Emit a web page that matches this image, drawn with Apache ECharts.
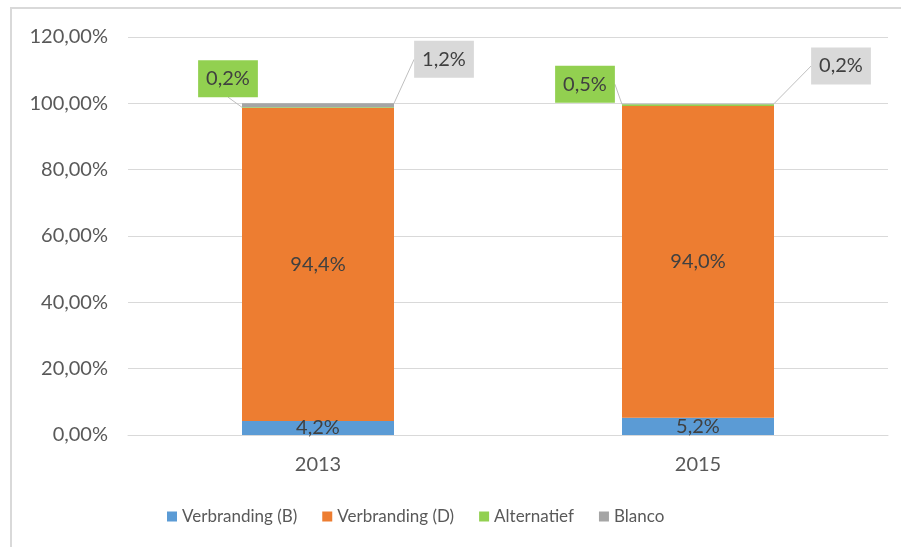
<!DOCTYPE html>
<html>
<head>
<meta charset="utf-8">
<script src="https://cdn.jsdelivr.net/npm/echarts@6/dist/echarts.min.js"></script>
<style>
    body { margin: 0; background: #fff; }
    #frame { position: absolute; left: 10px; top: 7px; width: 900px; height: 545px;
             border-left: 2px solid #d9d9d9; border-top: 2px solid #d9d9d9; }
    #chart { position: absolute; left: 0; top: 0; width: 901px; height: 547px; }
</style>
</head>
<body>
<div id="frame"></div>
<div id="chart"></div>
<script>
var years = ['2013', '2015'];
var seriesNames = ['Verbranding (B)', 'Verbranding (D)', 'Alternatief', 'Blanco'];
var verbrandingB = [4.2, 5.2];
var verbrandingD = [94.4, 94.0];
var alternatief = [0.2, 0.5];
var blanco = [1.2, 0.2];

var fontName = 'Lato';

function pct(v) {
    return v.toFixed(1).replace('.', ',') + '%';
}

// label offsets of the call-out boxes (per year)
var altShift = [[-90, -29], [-113, -21]];
var blancoShift = [[126, -46], [143, -38]];

var chart = echarts.init(document.getElementById('chart'));

var option = {
    animation: false,
    textStyle: { fontFamily: fontName },
    grid: { left: 128, right: 13, top: 37, bottom: 112 },
    legend: {
        bottom: 17,
        left: 162,
        itemWidth: 10,
        itemHeight: 10,
        itemGap: 25,
        icon: 'rect',
        textStyle: { color: '#595959', fontSize: 17, fontFamily: fontName },
        data: seriesNames
    },
    xAxis: {
        type: 'category',
        data: years,
        axisTick: { show: false },
        axisLine: { lineStyle: { color: '#d9d9d9', width: 1 } },
        axisLabel: { color: '#595959', fontSize: 20, margin: 20 }
    },
    yAxis: {
        type: 'value',
        min: 0,
        max: 120,
        interval: 20,
        axisLine: { show: false },
        axisTick: { show: false },
        splitLine: { lineStyle: { color: '#d9d9d9', width: 1 } },
        axisLabel: {
            color: '#595959',
            fontSize: 20,
            margin: 20,
            formatter: function (v) { return v.toFixed(2).replace('.', ',') + '%'; }
        }
    },
    series: [
        {
            name: seriesNames[0],
            type: 'bar',
            stack: 'total',
            barWidth: '40%',
            data: verbrandingB,
            itemStyle: { color: '#5b9bd5' },
            label: {
                show: true, position: 'inside', color: '#404040', fontSize: 20,
                formatter: function (p) { return pct(p.value); }
            }
        },
        {
            name: seriesNames[1],
            type: 'bar',
            stack: 'total',
            data: verbrandingD,
            itemStyle: { color: '#ed7d31' },
            label: {
                show: true, position: 'inside', color: '#404040', fontSize: 20,
                formatter: function (p) { return pct(p.value); }
            }
        },
        {
            name: seriesNames[2],
            type: 'bar',
            stack: 'total',
            data: alternatief,
            itemStyle: { color: '#92d050' },
            label: {
                show: true, position: 'inside', color: '#404040', fontSize: 20,
                backgroundColor: '#92d050', padding: [9, 8, 8, 8],
                formatter: function (p) { return pct(p.value); }
            },
            labelLine: { show: true, lineStyle: { color: '#bfbfbf', width: 1 } },
            labelLayout: function (p) {
                return { dx: altShift[p.dataIndex][0], dy: altShift[p.dataIndex][1] };
            }
        },
        {
            name: seriesNames[3],
            type: 'bar',
            stack: 'total',
            data: blanco,
            itemStyle: { color: '#a5a5a5' },
            label: {
                show: true, position: 'inside', color: '#404040', fontSize: 20,
                backgroundColor: '#d9d9d9', padding: [9, 8, 8, 8],
                formatter: function (p) { return pct(p.value); }
            },
            labelLine: { show: true, lineStyle: { color: '#bfbfbf', width: 1 } },
            labelLayout: function (p) {
                return { dx: blancoShift[p.dataIndex][0], dy: blancoShift[p.dataIndex][1] };
            }
        }
    ]
};

chart.setOption(option);
</script>
</body>
</html>
